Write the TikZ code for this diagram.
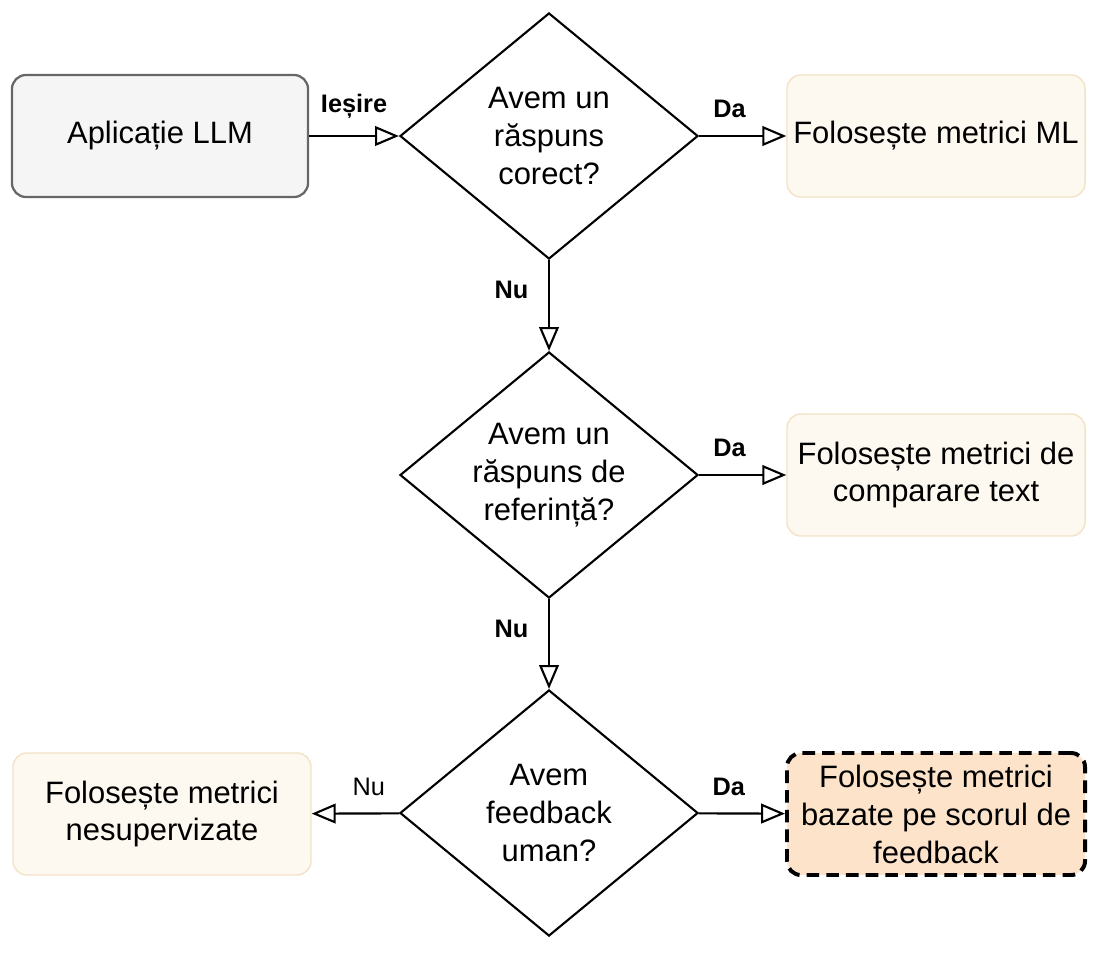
\documentclass[tikz,border=0pt]{standalone}
\usepackage{fontspec}
\setmainfont{Liberation Sans}
\usetikzlibrary{shapes.geometric,arrows.meta,positioning}
\definecolor{boxgray}{HTML}{F5F5F5}
\definecolor{boxline}{HTML}{666666}
\definecolor{sandfill}{HTML}{FDF8F0}
\definecolor{sandline}{HTML}{F2E3C6}
\definecolor{peach}{HTML}{FDE3CA}
\tikzset{
  box/.style = {rectangle, rounded corners=10pt, minimum width=7.45cm,
    minimum height=3.05cm, align=center, line width=1pt,
    font=\fontsize{22}{27}\selectfont},
  start/.style = {box, fill=boxgray, draw=boxline, line width=1.6pt},
  result/.style = {box, fill=sandfill, draw=sandline},
  question/.style = {diamond, draw, line width=1.5pt, fill=white, aspect=1.22,
    minimum width=7.45cm, minimum height=6.15cm, inner sep=0pt, align=center,
    font=\fontsize{22}{27}\selectfont},
  flow/.style = {-{Triangle[open, length=17pt, width=14pt]}, line width=1.5pt},
  tag/.style = {font=\fontsize{18}{20}\selectfont\bfseries, inner sep=8pt},
}
\begin{document}
\begin{tikzpicture}[x=0.025cm, y=-0.025cm]
  \useasboundingbox (0,0) rectangle (1104,960);

  % questions
  % ---------
  \node [question] (q1) at (549,136) {Avem un\\răspuns\\corect?};
  \node [question] (q2) at (549,475) {Avem un\\răspuns de\\referință?};
  \node [question] (q3) at (549,813) {Avem\\feedback\\uman?};

  % boxes
  % -----
  \node [start, minimum width=7.4cm] (app) at (160,136) {Aplicație LLM};
  \node [result] (ml) at (936,136) {Folosește metrici ML};
  \node [result] (cmp) at (936,475) {Folosește metrici de\\comparare text};
  \node [result] (uns) at (162,814) {Folosește metrici\\nesupervizate};
  \node [box, fill=peach, draw=black, dashed, line width=2.8pt,
    dash pattern=on 9pt off 5pt] (fb) at (936,814)
    {Folosește metrici\\bazate pe scorul de\\feedback};

  % connectors
  % ----------
  \draw [flow] (app) -- node [tag, above, inner sep=12pt] {Ieșire} (q1);
  \draw [flow] (q1) -- node [tag, above, pos=0.35, inner sep=12pt] {Da} (ml);
  \draw [flow] (q1) -- node [tag, left, pos=0.33, inner sep=14pt] {Nu} (q2);
  \draw [flow] (q2) -- node [tag, above, pos=0.35, inner sep=12pt] {Da} (cmp);
  \draw [flow] (q2) -- node [tag, left, pos=0.33, inner sep=14pt] {Nu} (q3);
  \draw [flow] (q3) -- node [tag, above, pos=0.35, inner sep=12pt] {Da} (fb);
  \draw [flow] (q3) -- node [above, pos=0.35, inner sep=12pt,
    font=\fontsize{18}{20}\selectfont] {Nu} (uns);
\end{tikzpicture}
\end{document}
